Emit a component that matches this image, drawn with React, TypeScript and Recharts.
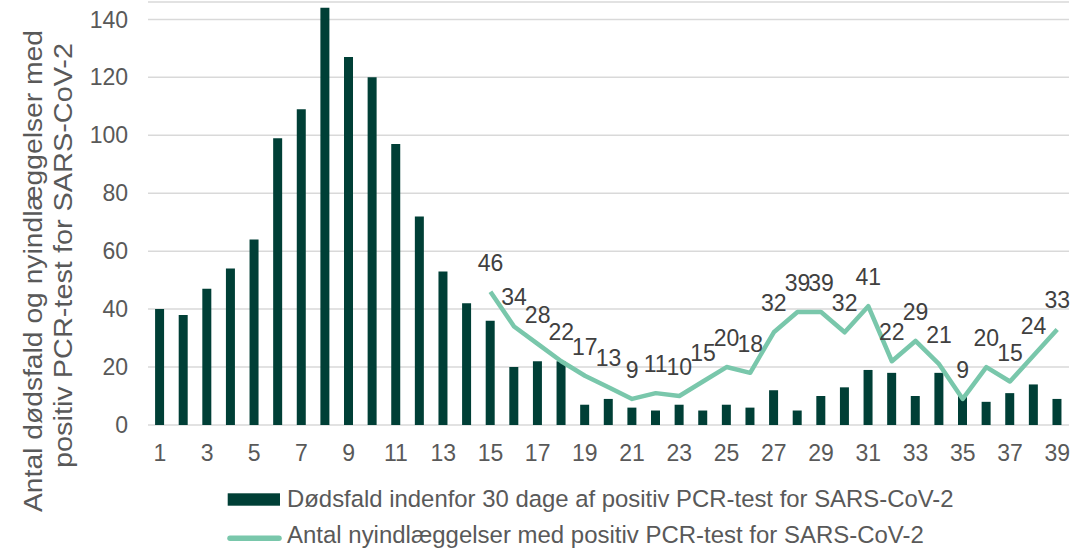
import React from 'react';
import { ComposedChart, Bar, Line, XAxis, YAxis, CartesianGrid, Legend, LabelList } from 'recharts';

const weeks = Array.from({ length: 39 }, (_, i) => String(i + 1));
const deaths = [40, 38, 47, 54, 64, 99, 109, 144, 127, 120, 97, 72, 53, 42, 36, 20, 22, 22, 7, 9, 6, 5, 7, 5, 7, 6, 12, 5, 10, 13, 19, 18, 10, 18, 10, 8, 11, 14, 9];
const admissions: (number | null)[] = [null, null, null, null, null, null, null, null, null, null, null, null, null, null, 46, 34, 28, 22, 17, 13, 9, 11, 10, 15, 20, 18, 32, 39, 39, 32, 41, 22, 29, 21, 9, 20, 15, 24, 33];
const yTicks = [0, 20, 40, 60, 80, 100, 120, 140];

const deathsLabel = 'Dødsfald indenfor 30 dage af positiv PCR-test for SARS-CoV-2';
const admissionsLabel = 'Antal nyindlæggelser med positiv PCR-test for SARS-CoV-2';
const yTitle1 = 'Antal dødsfald og nyindlæggelser med';
const yTitle2 = 'positiv PCR-test for SARS-CoV-2';

const data = weeks.map((w, i) => ({ week: w, deaths: deaths[i], admissions: admissions[i] }));

const BAR = '#003f36';
const LINE = '#79c7ab';
const TEXT = '#595959';
const FONT = '"Liberation Sans", Arial, sans-serif';

const measure = (s: string, size: number) => {
  try {
    const ctx = document.createElement('canvas').getContext('2d');
    if (ctx) {
      ctx.font = `${size}px "Liberation Sans", Arial, sans-serif`;
      return ctx.measureText(s).width;
    }
  } catch (e) { /* ignore */ }
  return s.length * size * 0.5;
};

const Squeezed = ({ x, y, s, size, len }: { x: number; y: number; s: string; size: number; len: number }) => {
  const sx = len / measure(s, size);
  return (
    <text transform={`translate(${x},${y}) scale(${sx},1)`} fill={TEXT} fontFamily={FONT} fontSize={size}>{s}</text>
  );
};

const YTitle = () => (
  <g fill={TEXT} fontFamily={FONT} fontSize={26}>
    <text transform="translate(42,271) rotate(-90)" textAnchor="middle" textLength={482} lengthAdjust="spacingAndGlyphs">{yTitle1}</text>
    <text transform="translate(72,255.5) rotate(-90)" textAnchor="middle" textLength={425} lengthAdjust="spacingAndGlyphs">{yTitle2}</text>
  </g>
);

const LegendContent = () => (
  <svg width={1092} height={73} style={{ display: 'block' }}>
    <rect x={227.7} y={15.3} width={52.3} height={12.4} fill={BAR} />
    <Squeezed x={287} y={29} s={deathsLabel} size={23.5} len={667} />
    <line x1={230} x2={279} y1={60.3} y2={60.3} stroke={LINE} strokeWidth={5.5} strokeLinecap="round" />
    <Squeezed x={287} y={65.3} s={admissionsLabel} size={23.5} len={637} />
  </svg>
);

const LineLabel = (props: any) => {
  const { x, y, value } = props;
  if (value === null || value === undefined) return null;
  return (
    <text x={x} y={y - 21} textAnchor="middle" fill="#404040" fontFamily={FONT} fontSize={23}>{value}</text>
  );
};

export default function App() {
  return (
    <div style={{ position: 'absolute', left: 0, top: 0, width: 1092, height: 551, background: '#fff' }}>
      <ComposedChart width={1092} height={551} data={data} margin={{ top: 2, right: 23, bottom: 86, left: 0 }} barCategoryGap="30%">
        <CartesianGrid horizontal vertical={false} stroke="#d9d9d9" strokeWidth={1.5} />
        <XAxis dataKey="week" interval={1} axisLine={false} tickLine={false} height={40} tickMargin={14}
          tick={{ fill: TEXT, fontSize: 23, fontFamily: FONT }} />
        <YAxis domain={[0, 146]} ticks={yTicks} width={148} axisLine={false} tickLine={false} tickMargin={14}
          tick={{ fill: TEXT, fontSize: 23, fontFamily: FONT }} allowDataOverflow
          label={{ content: () => <YTitle /> }} />
        <Legend layout="vertical" align="center" verticalAlign="middle"
          wrapperStyle={{ left: 0, top: 478, width: 1092, height: 73 }} content={() => <LegendContent />} />
        <Bar dataKey="deaths" name={deathsLabel} fill={BAR} isAnimationActive={false} />
        <Line dataKey="admissions" name={admissionsLabel} stroke={LINE} strokeWidth={4.5} dot={false}
          strokeLinejoin="round" isAnimationActive={false}>
          <LabelList dataKey="admissions" content={LineLabel} />
        </Line>
      </ComposedChart>
    </div>
  );
}
